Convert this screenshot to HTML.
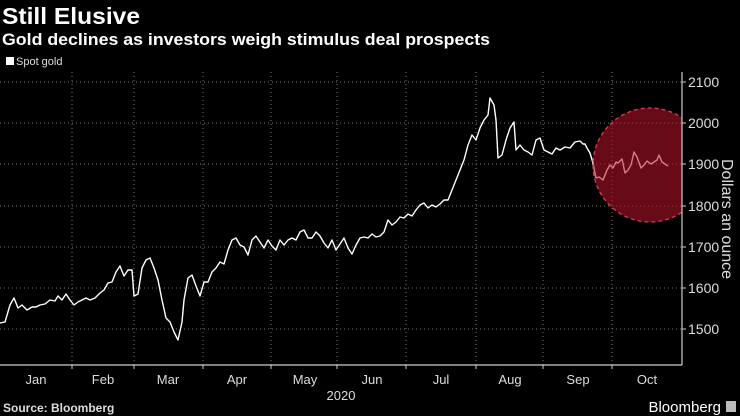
<!DOCTYPE html>
<html><head><meta charset="utf-8"><style>
body{margin:0;background:#000;width:740px;height:416px;overflow:hidden;font-family:"Liberation Sans",sans-serif;color:#fff}
</style></head><body>
<svg width="740" height="416" viewBox="0 0 740 416" xmlns="http://www.w3.org/2000/svg" style="position:absolute;left:0;top:0">
<text x="2" y="24" font-size="23" font-weight="bold" fill="#fff" textLength="138" lengthAdjust="spacingAndGlyphs">Still Elusive</text>
<text x="2" y="45" font-size="17" font-weight="bold" fill="#fff" textLength="488" lengthAdjust="spacingAndGlyphs">Gold declines as investors weigh stimulus deal prospects</text>
<rect x="6" y="57" width="8" height="8" fill="#fff"/>
<text x="16" y="65" font-size="11" fill="#ddd">Spot gold</text>
<g stroke="#777" stroke-width="1" stroke-dasharray="1,3">
<line x1="0" y1="82" x2="682" y2="82"/><line x1="0" y1="123" x2="682" y2="123"/><line x1="0" y1="164" x2="682" y2="164"/>
<line x1="0" y1="206" x2="682" y2="206"/><line x1="0" y1="247" x2="682" y2="247"/><line x1="0" y1="288" x2="682" y2="288"/><line x1="0" y1="329" x2="682" y2="329"/>
<line x1="72" y1="72" x2="72" y2="365"/><line x1="134" y1="72" x2="134" y2="365"/><line x1="203" y1="72" x2="203" y2="365"/><line x1="271" y1="72" x2="271" y2="365"/><line x1="337" y1="72" x2="337" y2="365"/><line x1="406" y1="72" x2="406" y2="365"/><line x1="476" y1="72" x2="476" y2="365"/><line x1="543" y1="72" x2="543" y2="365"/><line x1="612" y1="72" x2="612" y2="365"/>
</g>
<polyline fill="none" stroke="#fff" stroke-width="1.4" stroke-linejoin="round" points="0,323 5,322 10,305 14,298 18,308 22,305 27,310 32,307 36,307 40,305 45,304 50,300 55,301 58,296 62,300 66,294 70,300 74,305 78,302 82,300 86,298 90,300 95,298 100,293 104,290 108,283 112,282 116,272 120,266 124,276 128,270 132,270 134,296 138,294 142,268 146,260 150,258 154,268 158,280 162,300 166,318 170,322 174,332 178,340 182,322 184,300 188,278 192,275 196,286 200,296 204,282 208,282 212,272 216,268 220,262 224,264 228,250 232,240 236,238 240,245 244,247 248,255 252,240 256,236 260,242 264,248 268,240 272,246 276,250 280,240 284,245 288,240 292,238 296,240 300,232 304,230 308,238 312,238 316,232 320,236 324,243 328,248 332,240 336,250 340,244 344,238 348,248 352,254 356,245 360,238 364,237 368,238 372,234 376,237 380,236 384,232 388,220 392,225 396,222 400,217 404,218 408,214 412,216 416,210 420,205 424,203 428,208 432,205 436,207 440,204 444,200 448,200 452,190 456,180 460,170 464,160 468,145 472,135 476,140 480,128 484,120 488,115 490,98 494,105 496,120 498,158 502,155 506,140 510,128 514,122 516,150 520,145 524,150 528,152 532,155 536,140 540,138 544,150 548,152 552,154 556,148 560,150 565,147 570,148 575,142 580,141 583,144 585,144 587,148 590,153 593,163 596,178 599,177 603,180 607,170 610,165 613,168 616,162 618,163 622,159 625,173 628,170 631,165 634,152 637,157 641,168 644,165 647,161 651,164 654,162 657,160 659,155 662,162 665,164 668,166"/>
<defs><clipPath id="c"><rect x="0" y="60" width="682" height="310"/></clipPath></defs>
<circle cx="650" cy="165" r="57" fill="rgba(190,20,45,0.55)" stroke="#e8344f" stroke-width="1.3" stroke-dasharray="4,3" clip-path="url(#c)"/>
<line x1="682" y1="72" x2="682" y2="365" stroke="#ccc" stroke-width="1.2"/>
<line x1="0" y1="365" x2="682" y2="365" stroke="#ccc" stroke-width="1.2"/>
<g stroke="#ccc" stroke-width="1">
<line x1="682" y1="82" x2="686" y2="82"/><line x1="682" y1="123" x2="686" y2="123"/><line x1="682" y1="164" x2="686" y2="164"/><line x1="682" y1="206" x2="686" y2="206"/><line x1="682" y1="247" x2="686" y2="247"/><line x1="682" y1="288" x2="686" y2="288"/><line x1="682" y1="329" x2="686" y2="329"/>
<line x1="72" y1="365" x2="72" y2="369"/><line x1="134" y1="365" x2="134" y2="369"/><line x1="203" y1="365" x2="203" y2="369"/><line x1="271" y1="365" x2="271" y2="369"/><line x1="337" y1="365" x2="337" y2="369"/><line x1="406" y1="365" x2="406" y2="369"/><line x1="476" y1="365" x2="476" y2="369"/><line x1="543" y1="365" x2="543" y2="369"/><line x1="612" y1="365" x2="612" y2="369"/>
</g>
<g font-size="14" fill="#ddd">
<text x="688" y="87">2100</text><text x="688" y="128">2000</text><text x="688" y="169">1900</text><text x="688" y="211">1800</text><text x="688" y="252">1700</text><text x="688" y="293">1600</text><text x="688" y="334">1500</text>
</g>
<text transform="translate(722,159) rotate(90)" font-size="16" fill="#ddd">Dollars an ounce</text>
<g font-size="13" fill="#ddd" text-anchor="middle">
<text x="36" y="384">Jan</text><text x="103" y="384">Feb</text><text x="168" y="384">Mar</text><text x="237" y="384">Apr</text><text x="305" y="384">May</text><text x="372" y="384">Jun</text><text x="441" y="384">Jul</text><text x="510" y="384">Aug</text><text x="578" y="384">Sep</text><text x="647" y="384">Oct</text>
<text x="341" y="400">2020</text>
</g>
<text x="3" y="412" font-size="12" font-weight="bold" fill="#ddd">Source: Bloomberg</text>
<text x="721" y="412" font-size="15" fill="#fff" text-anchor="end">Bloomberg</text>
<rect x="726" y="401" width="10" height="11" fill="#bbb"/>
</svg>
</body></html>
